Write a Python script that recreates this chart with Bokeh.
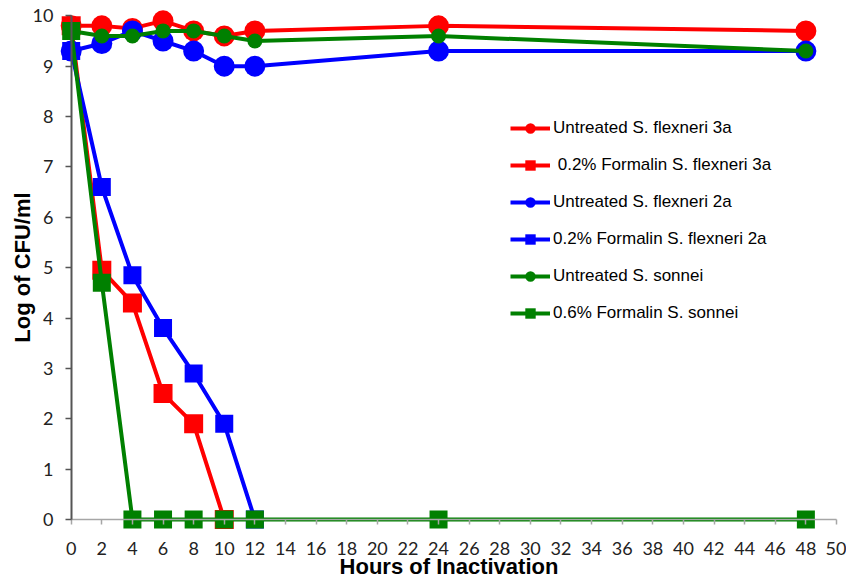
from bokeh.plotting import figure
from bokeh.models import Range1d, FixedTicker, Legend, LegendItem, LinearAxis
from bokeh.embed import file_html
from bokeh.resources import INLINE

# ---- data ----
hours = [0, 2, 4, 6, 8, 10, 12, 24, 48]
untreated_3a = [9.8, 9.8, 9.75, 9.9, 9.7, 9.6, 9.7, 9.8, 9.7]
untreated_2a = [9.3, 9.45, 9.7, 9.5, 9.3, 9.0, 9.0, 9.3, 9.3]
untreated_sonnei = [9.7, 9.6, 9.6, 9.7, 9.7, 9.6, 9.5, 9.6, 9.3]

hours_f3a = [0, 2, 4, 6, 8, 10]
formalin_3a = [9.8, 4.95, 4.3, 2.5, 1.9, 0]
hours_f2a = [0, 2, 4, 6, 8, 10, 12]
formalin_2a = [9.3, 6.6, 4.85, 3.8, 2.9, 1.9, 0]
hours_fs = [0, 2, 4, 6, 8, 10, 12, 24, 48]
formalin_sonnei = [9.7, 4.7, 0, 0, 0, 0, 0, 0, 0]

labels = ["Untreated S. flexneri 3a", " 0.2% Formalin S. flexneri 3a",
          "Untreated S. flexneri 2a", "0.2% Formalin S. flexneri 2a",
          "Untreated S. sonnei", "0.6% Formalin S. sonnei"]
x_ticks = list(range(0, 51, 2))
y_ticks = list(range(0, 11))
x_title = "Hours of Inactivation"
y_title = "Log of CFU/ml"

# ---- figure ----
p = figure(width=846, height=581, output_backend="svg", toolbar_location=None,
           x_range=Range1d(-0.895, 50.262), y_range=Range1d(-0.1985, 10.2045),
           x_axis_location=None, y_axis_location=None,
           min_border_left=57, min_border_right=6, min_border_top=5, min_border_bottom=52)
p.outline_line_color = None
p.xgrid.visible = False
p.ygrid.visible = False
p.background_fill_color = "white"
p.border_fill_color = "white"

# axis lines + tick marks drawn at data 0 (inside the frame); tick marks are
# "minor" ticks so that these rule axes carry no labels
y_rule = LinearAxis(fixed_location=0, ticker=FixedTicker(ticks=[], minor_ticks=y_ticks),
                    bounds=(0, 10),
                    axis_line_color="#555555", axis_line_width=2,
                    major_tick_line_color=None,
                    minor_tick_line_color="#555555", minor_tick_line_width=1.5,
                    minor_tick_in=6, minor_tick_out=0)
p.add_layout(y_rule, "right")
x_rule = LinearAxis(fixed_location=0, ticker=FixedTicker(ticks=[], minor_ticks=x_ticks),
                    bounds=(0, 50),
                    axis_line_color="#A6A6A6", axis_line_width=1.5,
                    major_tick_line_color=None,
                    minor_tick_line_color="#A6A6A6", minor_tick_line_width=1.5,
                    minor_tick_in=5, minor_tick_out=0)
p.add_layout(x_rule, "above")

# tick labels and titles in the side panels
y_lab = LinearAxis(ticker=FixedTicker(ticks=y_ticks), axis_line_color=None,
                   major_tick_line_color=None, minor_tick_line_color=None,
                   major_tick_in=0, major_tick_out=0, major_label_standoff=4,
                   major_label_text_font="Lato", major_label_text_font_size="18px",
                   major_label_text_color="#222222",
                   axis_label=y_title, axis_label_standoff=-5,
                   axis_label_text_font="Liberation Sans", axis_label_text_font_style="bold",
                   axis_label_text_font_size="22px", axis_label_text_color="black")
p.add_layout(y_lab, "left")
x_lab = LinearAxis(ticker=FixedTicker(ticks=x_ticks), axis_line_color=None,
                   major_tick_line_color=None, minor_tick_line_color=None,
                   major_tick_in=0, major_tick_out=0, major_label_standoff=12,
                   major_label_text_font="Lato", major_label_text_font_size="18px",
                   major_label_text_color="#222222",
                   axis_label=x_title, axis_label_standoff=-4,
                   axis_label_text_font="Liberation Sans", axis_label_text_font_style="bold",
                   axis_label_text_font_size="22px", axis_label_text_color="black")
p.add_layout(x_lab, "below")

RED, BLUE, GREEN = "#FF0000", "#0000FF", "#008000"
LW = 4

series = [
    (hours, untreated_3a, RED, "circle", 21),
    (hours_f3a, formalin_3a, RED, "square", 19),
    (hours, untreated_2a, BLUE, "circle", 21),
    (hours_f2a, formalin_2a, BLUE, "square", 18),
    (hours, untreated_sonnei, GREEN, "circle", 15),
    (hours_fs, formalin_sonnei, GREEN, "square", 18),
]

items = []
for (xs, ys, col, mk, sz), lab in zip(series, labels):
    lr = p.line(xs, ys, line_color=col, line_width=LW)
    sr = p.scatter(xs, ys, marker=mk, size=sz, fill_color=col, line_color=col, line_width=0)
    items.append(LegendItem(label=lab, renderers=[lr, sr]))

legend = Legend(items=items, location=(453, 203), padding=0, margin=0, spacing=11,
                glyph_width=40, glyph_height=26, label_height=26, label_standoff=3,
                label_text_font="Liberation Sans", label_text_font_size="17px",
                label_text_color="black", border_line_color=None,
                background_fill_alpha=0)
p.add_layout(legend, "center")

open("out.html", "w").write(file_html(p, INLINE))
